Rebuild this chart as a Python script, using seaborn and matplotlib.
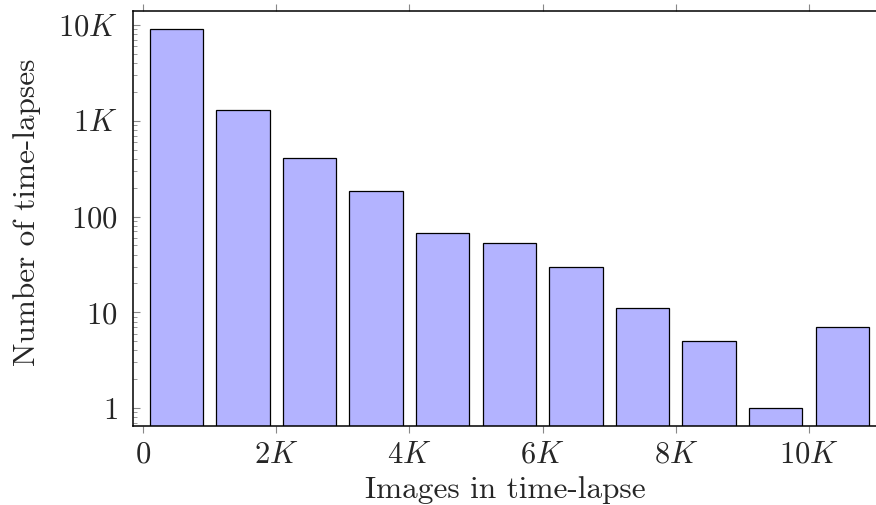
import matplotlib
matplotlib.use("Agg")
import matplotlib.pyplot as plt
import matplotlib.ticker as mticker
import seaborn as sns
import pandas as pd

# Data: histogram bins (1000 images wide) and counts
bin_centers = [500, 1500, 2500, 3500, 4500, 5500, 6500, 7500, 8500, 9500, 10500]
counts = [9000, 1300, 410, 185, 68, 53, 30, 11, 5, 1, 7]
x_ticks = [0, 2000, 4000, 6000, 8000, 10000]
x_tick_labels = [r"$0$", r"$2K$", r"$4K$", r"$6K$", r"$8K$", r"$10K$"]
y_ticks = [1, 10, 100, 1000, 10000]
y_tick_labels = [r"$1$", r"$10$", r"$100$", r"$1K$", r"$10K$"]

sns.set_style("ticks")
plt.rcParams["font.family"] = ["cmr10", "DejaVu Serif"]
plt.rcParams["mathtext.fontset"] = "cm"
plt.rcParams["axes.formatter.use_mathtext"] = True

df = pd.DataFrame({"images": bin_centers, "count": counts})

fig = plt.figure(figsize=(8.76, 5.05), dpi=100)
ax = fig.add_axes([0.1518, 0.1564, 0.8500, 0.8218])

sns.barplot(data=df, x="images", y="count", native_scale=True, width=0.8,
            color="#b3b3ff", saturation=1, edgecolor="black", linewidth=0.9,
            ax=ax, zorder=2)

ax.set_yscale("log")
ax.set_ylim(0.65, 14000)
ax.set_xlim(-150, 11030)

ax.xaxis.set_major_locator(mticker.FixedLocator(x_ticks))
ax.xaxis.set_major_formatter(mticker.FixedFormatter(x_tick_labels))
ax.yaxis.set_major_locator(mticker.FixedLocator(y_ticks))
ax.yaxis.set_major_formatter(mticker.FixedFormatter(y_tick_labels))
ax.yaxis.set_minor_locator(mticker.LogLocator(base=10, subs=range(2, 10)))
ax.yaxis.set_minor_formatter(mticker.NullFormatter())

ax.tick_params(axis="x", which="major", direction="out", top=True, bottom=True,
               length=5, width=0.8, color="#888888", labelsize=22, pad=6)
ax.tick_params(axis="y", which="major", direction="in", left=True, right=False,
               length=5, width=0.8, color="#888888", labelsize=22, pad=11)
ax.tick_params(axis="y", which="minor", direction="in", left=True, right=False,
               length=3, width=0.6, color="#888888")

for s in ax.spines.values():
    s.set_visible(True)
    s.set_linewidth(1.1)
    s.set_color("black")

ax.set_xlabel("Images in time-lapse", fontsize=22.5, labelpad=5)
ax.set_ylabel("Number of time-lapses", fontsize=22.5, labelpad=12)
ax.yaxis.label.set_y(0.515)

fig.savefig("out.png", dpi=100)
